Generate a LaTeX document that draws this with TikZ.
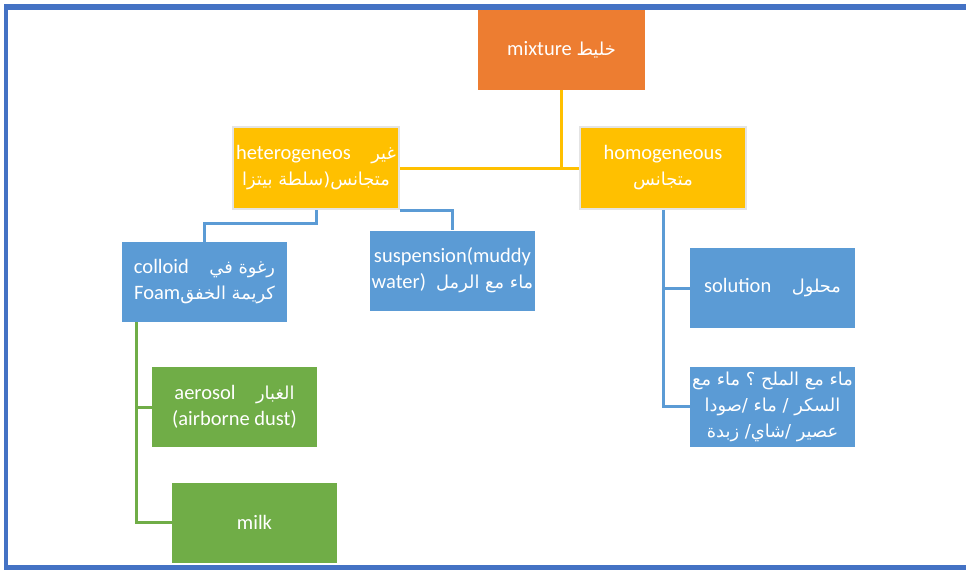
\documentclass[tikz,border=0pt]{standalone}
\usepackage{fontspec}
\setmainfont{Carlito}
\newfontfamily\arfont[Script=Arabic,Scale=0.87]{DejaVu Sans}
\TeXXeTstate=1
\usetikzlibrary{calc}
\definecolor{cOrange}{HTML}{ED7D31}
\definecolor{cGold}{HTML}{FFC000}
\definecolor{cBlue}{HTML}{5B9BD5}
\definecolor{cGreen}{HTML}{70AD47}
\definecolor{cFrame}{HTML}{4472C4}
\definecolor{cEdge}{HTML}{E4E4E4}
\newcommand{\AR}[1]{{\arfont\beginR #1\endR}}
\tikzset{
  box/.style={text=white, align=center, inner sep=1pt,
    font=\fontsize{20.5}{26}\selectfont},
  orangebox/.style={box, fill=cOrange, minimum width=167pt, minimum height=80pt},
  goldbox/.style={box, fill=cGold, draw=cEdge, line width=2.5pt, minimum width=166pt, minimum height=82pt},
  bluebox/.style={box, fill=cBlue, minimum width=165pt, minimum height=80pt},
  greenbox/.style={box, fill=cGreen, minimum width=165pt, minimum height=80pt},
  goldline/.style={draw=cGold, line width=3pt},
  blueline/.style={draw=cBlue, line width=3pt},
  greenline/.style={draw=cGreen, line width=3pt},
}
\begin{document}
\begin{tikzpicture}[x=1pt,y=-1pt]
\useasboundingbox (0,0) rectangle (966,570);
% frame
\fill[cFrame] (4,4) rectangle (966,10);
\fill[cFrame] (4,4) rectangle (8,570);
\fill[cFrame] (4,565) rectangle (966,570);

% nodes
\node[orangebox] (mix) at (561.5,50) {mixture \AR{خليط}};
\node[goldbox] (het) at (316,168) {heterogeneos\quad\AR{غير}\\\AR{متجانس(سلطة بيتزا}};
\node[goldbox] (hom) at (663,168) {homogeneous\\\AR{متجانس}};
\node[bluebox] (col) at (204.5,282) {colloid\quad\AR{رغوة في}\\Foam\AR{كريمة الخفق}};
\node[bluebox] (sus) at (452.5,270.5) {suspension(muddy\\water)\enspace\AR{ماء مع الرمل}};
\node[bluebox] (sol) at (772.5,288) {solution\quad\AR{محلول}};
\node[bluebox] (salt) at (772.5,406.5) {\AR{ماء مع الملح ؟ ماء مع}\\\AR{السكر / ماء /صودا}\\\AR{عصير /شاي/ زبدة}};
\node[greenbox] (aer) at (234.5,407) {aerosol\quad\AR{الغبار}\\(airborne dust)};
\node[greenbox] (milk) at (254.5,522.5) {milk};

% connectors
\draw[goldline] (mix.south) -- (mix.south |- het.east);
\draw[goldline] (het.east) -- (hom.west);
\draw[blueline] (het.south) -- ++(0,13) -| (col.north);
\draw[blueline] (het.south east) -| (sus.north);
\draw[blueline] (hom.south) |- (sol.west);
\draw[blueline] (hom.south) |- (salt.west);
\coordinate (cb) at ($(col.south west)+(15,0)$);
\draw[greenline] (cb) |- (aer.west);
\draw[greenline] (cb) |- (milk.west);
\end{tikzpicture}
\end{document}
